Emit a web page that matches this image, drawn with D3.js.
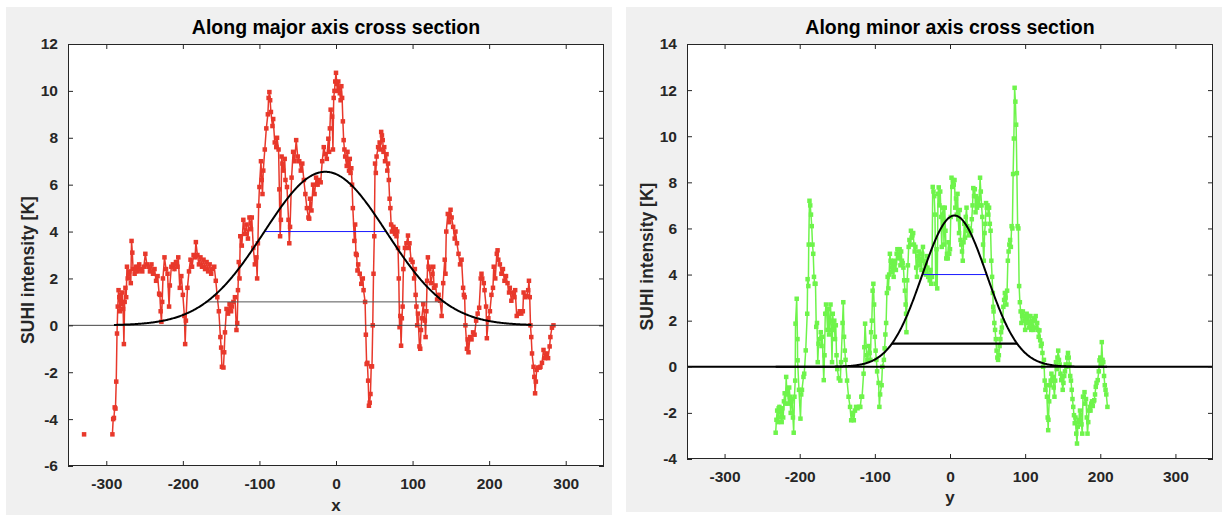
<!DOCTYPE html>
<html><head><meta charset="utf-8">
<script src="https://cdn.jsdelivr.net/npm/d3@7"></script>
<style>
body{margin:0;background:#fff;}
svg{display:block;font-family:"Liberation Sans",Arial,sans-serif;}
</style></head><body>
<svg id="c" width="1225" height="515"></svg>
<script>
// ---------- data ----------
const titles = ["Along major axis cross section", "Along minor axis cross section"];
const xLabels = ["x", "y"];
const yLabel = "SUHI intensity [K]";
const xTicks = [-300, -200, -100, 0, 100, 200, 300];
const majorYTicks = [-6, -4, -2, 0, 2, 4, 6, 8, 10, 12];
const minorYTicks = [-4, -2, 0, 2, 4, 6, 8, 10, 12, 14];
const levels = [1, 4];

// [position, SUHI intensity]; null marks a gap
const majorPoints = [
[-329,-4.65],null,
[-292,-4.65],[-291,-4.0],[-290,-3.95],[-289,-3.5],[-288,-3.55],[-287,-2.4],[-286,-0.35],[-285,0.8],[-284,1.5],[-283,1.2],[-282,0.6],[-281,1.3],[-280,0.9],[-279,1.4],[-278,0.7],[-277,-0.8],[-276,1.0],[-275,1.6],[-274,1.2],[-273,2.5],[-272,2.0],[-270,2.3],[-268,1.8],[-267,3.6],[-266,3.1],[-265,2.4],[-263,2.2],[-261,2.5],[-259,2.3],[-257,2.6],[-255,2.4],[-253,2.3],[-251,2.5],[-249,3.05],[-247,2.6],[-245,2.5],[-243,2.3],[-241,2.6],[-239,2.2],[-237,2.4],[-235,1.9],[-233,2.1],[-231,1.35],[-230,1.3],[-229,0.6],[-228,0.15],[-227,1.0],[-226,2.0],[-224,2.9],[-222,2.4],[-220,2.2],[-218,0.8],[-217,1.7],[-215,2.5],[-213,2.6],[-211,2.4],[-209,2.7],[-207,2.5],[-206,2.9],[-204,1.6],[-202,2.1],[-200,1.3],[-198,0.4],[-197,-0.8],[-196,0.2],[-194,1.6],[-192,2.3],[-190,2.8],[-188,2.5],[-186,3.0],[-184,2.9],[-183,3.55],[-181,3.0],[-179,2.6],[-177,2.9],[-175,2.5],[-173,2.8],[-171,2.4],[-169,2.7],[-167,2.3],[-165,2.6],[-163,2.2],[-161,2.4],[-159,2.5],[-157,1.9],[-155,1.2],[-153,0.6],[-151,-0.5],[-150,-0.95],[-149,-1.77],[-147,-1.8],[-146,-1.15],[-145,-0.3],[-143,0.7],[-141,0.5],[-139,0.9],[-137,0.6],[-136,0.8],[-134,1.0],[-132,1.2],[-130,-0.2],[-129,0.1],[-128,1.5],[-127,2.7],[-126,2.0],[-125,3.8],[-123,3.4],[-121,4.5],[-119,3.9],[-117,4.3],[-115,3.7],[-113,4.6],[-111,4.1],[-110,4.6],[-108,3.3],[-106,2.6],[-104,2.9],[-103,2.0],[-102,3.5],[-101,5.1],[-100,5.9],[-98,7.0],[-97,6.2],[-96,5.6],[-95,6.6],[-93,7.5],[-91,8.4],[-89,9.0],[-88,9.7],[-87,9.95],[-86,9.6],[-85,9.1],[-83,8.5],[-82,8.8],[-80,7.8],[-78,7.6],[-77,8.0],[-75,7.5],[-74,5.8],[-73,3.8],[-72,4.5],[-71,7.2],[-70,6.9],[-69,6.6],[-67,7.1],[-66,6.2],[-64,5.9],[-62,4.5],[-61,3.5],[-60,4.2],[-58,6.3],[-56,7.4],[-54,7.0],[-52,7.9],[-50,7.2],[-48,7.0],[-46,6.6],[-44,6.9],[-42,6.2],[-40,5.6],[-38,5.0],[-36,4.6],[-35,4.55],[-34,5.4],[-32,4.9],[-30,6.0],[-28,5.6],[-26,6.3],[-24,6.0],[-22,6.2],[-20,6.1],[-18,7.0],[-16,7.6],[-14,7.3],[-12,7.1],[-10,7.96],[-9,7.4],[-8,8.4],[-7,9.2],[-5,8.9],[-4,7.5],[-3,9.7],[-2,10.0],[-1,10.4],[0,10.77],[1,10.3],[2,10.0],[3,10.4],[4,10.1],[5,9.9],[6,9.6],[7,10.2],[8,9.7],[9,8.7],[10,7.9],[11,7.5],[12,7.2],[14,6.8],[15,7.4],[16,6.9],[17,6.6],[18,7.1],[19,6.5],[20,6.7],[21,6.0],[22,5.0],[24,3.6],[25,4.3],[26,3.05],[27,3.0],[28,2.34],[29,2.6],[31,2.2],[33,1.77],[35,2.0],[36,1.5],[38,1.0],[39,-0.4],[40,-1.65],[41,-1.6],[42,-2.36],[43,-3.43],[44,-3.3],[45,-2.93],[46,-1.75],[47,-1.75],[48,0.0],[49,2.2],[50,3.8],[51,6.9],[52,6.5],[53,7.2],[55,7.6],[57,7.8],[58,7.5],[59,8.25],[60,8.1],[61,7.9],[62,7.4],[63,7.6],[64,7.0],[66,7.3],[67,6.6],[68,6.9],[69,6.2],[70,5.4],[71,5.0],[72,4.3],[73,4.0],[75,4.2],[77,3.9],[78,4.1],[79,3.8],[80,4.0],[81,3.3],[82,2.0],[83,-0.08],[84,0.4],[85,-0.87],[86,0.3],[87,0.8],[88,2.4],[90,3.3],[92,3.5],[94,3.83],[95,3.3],[96,3.5],[98,2.8],[100,2.7],[102,2.0],[103,2.4],[104,1.3],[105,0.8],[106,0.0],[107,0.5],[109,-0.9],[110,-1.0],[111,-0.2],[112,0.3],[114,0.9],[116,0.2],[117,-0.5],[118,0.6],[119,1.9],[120,2.9],[121,2.5],[122,2.4],[124,1.8],[126,2.2],[127,2.5],[128,1.6],[130,1.7],[132,1.1],[134,1.3],[136,1.05],[138,0.4],[140,1.8],[142,2.8],[143,2.2],[144,4.0],[146,4.75],[148,4.4],[149.6,4.93],[151,4.6],[153,4.2],[155,3.7],[156,4.0],[158,3.5],[160,3.05],[162,2.6],[164,2.8],[166,1.6],[167,1.3],[168,1.2],[169,0.0],[171,-1.0],[172,-0.6],[173,-1.15],[175,-0.5],[177,-0.6],[179,-0.3],[181,-0.4],[183,0.2],[185,0.5],[187,0.75],[189,2.0],[190,2.2],[191,2.0],[193,1.8],[194,1.5],[196,0.8],[197,-0.55],[199,0.3],[201,0.6],[203,1.3],[205,1.6],[206,2.5],[208,2.0],[210,3.05],[211,3.2],[212,2.8],[214,2.6],[216,2.2],[218,2.4],[220,1.9],[222,2.1],[224,1.8],[226,1.4],[227,1.6],[229,1.05],[231,1.4],[233,1.2],[234,1.5],[236,0.4],[238,0.5],[240,0.6],[242,0.5],[244,0.6],[245,1.4],[247,1.2],[249,1.25],[251,1.5],[252,1.9],[253,1.2],[254,0.0],[255,-0.5],[256,-1.2],[258,-1.77],[259,-2.2],[260,-2.9],[261,-2.4],[262,-1.9],[264,-1.8],[266,-1.8],[267,-1.77],[269,-1.6],[271,-1.05],[273,-1.4],[275,-1.2],[277,-1.4],[279,-0.9],[280,-0.5],[282,-0.1],[284,0.0]
];

const minorPoints = [
[-232,-2.86],[-231,-2.3],[-230,-1.9],[-229,-2.4],[-228,-1.8],[-227,-1.74],[-226,-2.2],[-225,-1.9],[-224,-2.4],[-223,-1.8],[-222,-2.2],[-221,-1.5],[-220,-1.15],[-219,-1.6],[-218,-0.44],[-217,-1.2],[-216,-1.0],[-215,-1.6],[-214,-0.9],[-213,-1.3],[-212,-2.0],[-211,-1.5],[-210,-1.4],[-209,-2.2],[-208,-2.86],[-207,-1.3],[-206,-0.6],[-205.6,1.87],[-204,2.95],[-203,1.2],[-202.8,0.28],[-201,-1.0],[-199,-2.25],[-198,-1.2],[-197,-1.0],[-195,-0.44],[-194,-0.3],[-192,0.71],[-190,2.3],[-189.5,3.8],[-188.5,3.5],[-188,5.3],[-187,7.2],[-186,7.0],[-185,6.6],[-184,6.1],[-183,5.3],[-182,4.9],[-181,3.9],[-180,3.6],[-179,3.6],[-178,1.73],[-177,1.9],[-176,0.2],[-175,1.0],[-174,1.2],[-172,1.5],[-171,0.9],[-170,1.3],[-168,-0.58],[-167,0.5],[-166,2.3],[-165,2.7],[-164,2.3],[-163,1.6],[-162,2.5],[-161,1.4],[-160,2.0],[-159,2.7],[-158,1.6],[-157,0.2],[-156,2.3],[-155,1.6],[-154,2.0],[-153,1.2],[-152,1.8],[-151,0.5],[-150,-0.1],[-148,-0.5],[-146,-0.6],[-145,0.2],[-143,1.9],[-142,2.8],[-141,1.3],[-140,0.7],[-139,0.3],[-137,-0.6],[-135,-1.3],[-133,-1.74],[-131.5,-2.32],[-130,-2.0],[-128,-2.32],[-126.5,-1.9],[-125,-1.74],[-123,-1.8],[-121,-1.74],[-119.4,-1.74],[-118,-1.3],[-117,-1.3],[-115,-0.3],[-114,0.85],[-113,1.87],[-111,0.5],[-110,0.3],[-108,0.9],[-107,0.6],[-106,0.3],[-105,1.5],[-104,2.0],[-103,3.3],[-102,3.6],[-101,2.7],[-100,1.3],[-99,0.7],[-98,0.3],[-97,-0.2],[-95,-0.7],[-94,-1.74],[-93,-1.2],[-91,-0.8],[-90,0.0],[-88,0.3],[-87,0.8],[-86,1.4],[-85,1.9],[-84,3.2],[-83,3.9],[-82,3.4],[-81,4.0],[-80,4.9],[-79,4.6],[-78,4.3],[-77,4.1],[-76,4.5],[-75,3.9],[-74,4.6],[-73,4.5],[-72,4.2],[-71,4.9],[-70,5.1],[-69,4.8],[-68,4.7],[-67,5.1],[-66,4.4],[-65,5.0],[-64,4.6],[-63,4.5],[-62,4.3],[-61,3.75],[-60,3.3],[-59,2.7],[-58.5,2.3],[-58,1.5],[-57,3.75],[-56,4.4],[-55,5.2],[-54,5.5],[-53,5.3],[-52,5.9],[-51,5.6],[-50,5.7],[-49,5.8],[-48,5.3],[-47,5.0],[-46,5.2],[-45,4.3],[-44,3.9],[-43,4.8],[-42,4.6],[-41,5.0],[-40,4.4],[-39,4.7],[-38,4.2],[-37,4.9],[-36,5.2],[-35,4.6],[-34,4.1],[-33,4.5],[-32,4.0],[-31,4.8],[-30,4.3],[-29,3.9],[-28,4.0],[-27,3.75],[-26,4.2],[-25,3.6],[-24,3.9],[-23,7.8],[-22,7.6],[-21,7.4],[-20,6.6],[-19,3.6],[-18,5.1],[-17,3.4],[-16,7.5],[-15,7.78],[-14,7.0],[-13,7.6],[-12,6.5],[-11,5.2],[-10,6.6],[-9,6.9],[-8,5.3],[-7,6.9],[-6,5.9],[-5,4.7],[-4,4.9],[-3,4.7],[-2,5.4],[-1,4.9],[0,5.1],[1,6.5],[2,8.2],[3,7.8],[4,8.1],[5,7.9],[6,8.1],[7,6.9],[8,7.3],[9,6.6],[10,7.5],[11,6.4],[12,5.8],[13,6.8],[14,5.5],[15,5.3],[16,5.0],[17,4.6],[18,5.4],[19,6.2],[20,5.6],[21,6.5],[22,6.9],[23,6.1],[24,5.9],[25,5.7],[26,6.0],[27,5.8],[28,5.9],[29,6.4],[30,7.0],[31,7.75],[32,7.4],[33,7.7],[34,6.7],[35,7.4],[36,6.9],[37,7.1],[38,7.3],[39,7.0],[40,8.2],[41,7.6],[42,7.0],[43,6.5],[44,5.3],[45,4.6],[46,5.8],[47,6.2],[48,7.1],[49,6.9],[50,7.0],[51,6.6],[52,6.9],[53,6.2],[54,5.9],[55,4.6],[56,3.9],[57,3.2],[57.5,2.6],[58,2.4],[59,1.9],[60,1.6],[61,1.2],[62,0.7],[63,0.4],[64,0.3],[65,0.5],[66,0.9],[67,1.2],[68,1.5],[69,1.7],[70,2.0],[71,2.6],[72,2.9],[73,3.2],[74,3.0],[75,2.7],[76,3.3],[77,4.6],[78,5.0],[79,5.3],[80,5.5],[81,5.2],[82,6.1],[83,6.0],[84,8.36],[85,9.9],[86,12.1],[87,11.5],[88,10.5],[89,8.4],[90,6.1],[91,6.0],[92,3.5],[93,2.8],[94,2.4],[95,1.9],[96,2.2],[97,2.4],[98,2.2],[99,2.0],[100,1.6],[101,2.1],[102,2.3],[103,1.9],[104,2.2],[105,1.7],[106,1.9],[107,2.2],[108,1.6],[109,2.0],[110,1.7],[111,1.6],[112,2.1],[113,2.0],[114,2.2],[115,1.7],[116,1.9],[117,1.6],[118,1.3],[119,1.58],[120,1.15],[121,0.9],[122,1.0],[123,0.6],[124,0.0],[125,0.3],[126,-0.6],[127,-1.0],[128,-0.8],[129,-1.3],[130,-2.2],[130.7,-2.75],[131,-2.3],[132,-1.5],[133,-0.8],[134,-0.6],[135,-0.3],[136,-0.6],[137,-0.44],[138,-0.9],[139,-1.3],[140,-0.6],[141,0.2],[142,-0.1],[143,0.4],[144,0.7],[145,0.3],[146,0.1],[147,-0.3],[148,-0.58],[149,-0.5],[150,-1.0],[151,-0.7],[152,-0.4],[153,-0.2],[154,0.1],[155,0.0],[156,0.4],[157,0.6],[158,0.4],[159,0.1],[160,-0.4],[161,-0.6],[162,-1.0],[163,-1.4],[164,-1.74],[165,-2.1],[166,-2.45],[167,-2.2],[168,-2.9],[169,-3.33],[170,-2.6],[171,-2.4],[172,-2.3],[173,-1.9],[174,-2.1],[175,-2.5],[176,-2.9],[177,-1.3],[178,-1.3],[179,-1.1],[180,-1.6],[181,-1.4],[182,-2.2],[183,-2.9],[184,-2.4],[185,-1.9],[186,-1.74],[187,-1.9],[188,-1.6],[189,-1.5],[190,-1.7],[191,-1.5],[192,-1.45],[193,-1.2],[194,-0.87],[195,-0.7],[196.6,-0.58],[198,-0.2],[199,0.28],[200,0.4],[201,0.1],[202,1.07],[203,0.3],[204,0.2],[205,-0.4],[206,-0.8],[207,-1.0],[208,-1.2],[209.5,-1.74]
];

// Gaussian fits: [amplitude, centre, sigma, start, end]
const majorFit = [6.55, -14, 80, -290, 255];
const minorFit = [6.56, 6, 43, -232, 209];

// ---------- drawing ----------
const svg = d3.select("#c");
const fmt = d => String(d);   // plain hyphen minus, as in the reference
const panels = [
  {fig:[6,7,606,508], box:[68,44,604,466], yDom:[-6,12], yTicks:majorYTicks, pts:majorPoints, fit:majorFit,
   color:"#e8382b", zeroW:1, zeroC:"#444", lvlW:[1,1], lvlC:["#555","#1a1aff"], title:titles[0], xl:xLabels[0], ylOff:15, xlBase:511},
  {fig:[626,7,596,505], box:[687,44,1213,459], yDom:[-4,14], yTicks:minorYTicks, pts:minorPoints, fit:minorFit,
   color:"#6ef44b", zeroW:2, zeroC:"#000", lvlW:[2.2,1], lvlC:["#000","#1a1aff"], title:titles[1], xl:xLabels[1], ylOff:5, xlBase:503}
];

panels.forEach((p, i) => {
  const [bx0, by0, bx1, by1] = p.box;
  svg.append("rect").attr("x", p.fig[0]).attr("y", p.fig[1]).attr("width", p.fig[2]).attr("height", p.fig[3]).attr("fill", "#f0f0f0");
  svg.append("rect").attr("x", bx0).attr("y", by0).attr("width", bx1 - bx0).attr("height", by1 - by0).attr("fill", "#fff");

  const x = d3.scaleLinear().domain([-350, 350]).range([bx0, bx1]);
  const y = d3.scaleLinear().domain(p.yDom).range([by1, by0]);
  const g = svg.append("g");
  const clipId = "clip" + i;
  svg.append("clipPath").attr("id", clipId).append("rect").attr("x", bx0).attr("y", by0).attr("width", bx1 - bx0).attr("height", by1 - by0);
  const plot = g.append("g").attr("clip-path", `url(#${clipId})`);

  // data line + markers
  const line = d3.line().defined(d => d !== null).x(d => x(d[0])).y(d => y(d[1]));
  plot.append("path").datum(p.pts).attr("d", line).attr("fill", "none").attr("stroke", p.color).attr("stroke-width", 1.5);
  plot.selectAll("rect.m").data(p.pts.filter(d => d !== null)).enter().append("rect")
    .attr("x", d => x(d[0]) - 2.25).attr("y", d => y(d[1]) - 2.25).attr("width", 4.5).attr("height", 4.5).attr("fill", p.color);

  // zero line
  plot.append("line").attr("x1", bx0).attr("x2", bx1).attr("y1", y(0)).attr("y2", y(0)).attr("stroke", p.zeroC).attr("stroke-width", p.zeroW);

  // level lines from the fit
  const [A, mu, s, f0, f1] = p.fit;
  levels.forEach((lv, k) => {
    const hw = s * Math.sqrt(2 * Math.log(A / lv));
    plot.append("line").attr("x1", x(mu - hw)).attr("x2", x(mu + hw)).attr("y1", y(lv)).attr("y2", y(lv))
      .attr("stroke", p.lvlC[k]).attr("stroke-width", p.lvlW[k]);
  });

  // gaussian curve
  const cx = d3.range(f0, f1 + 0.5, 1);
  const curve = d3.line().x(v => x(v)).y(v => y(A * Math.exp(-((v - mu) ** 2) / (2 * s * s))));
  plot.append("path").datum(cx).attr("d", curve).attr("fill", "none").attr("stroke", "#000").attr("stroke-width", 2);

  // axes (ticks inward, box)
  const tc = "#262626";
  const axB = d3.axisBottom(x).tickValues(xTicks).tickSize(-5).tickPadding(12).tickFormat(fmt);
  const axT = d3.axisTop(x).tickValues(xTicks).tickSize(-5).tickFormat("");
  const axL = d3.axisLeft(y).tickValues(p.yTicks).tickSize(-5).tickPadding(10).tickFormat(fmt);
  const axR = d3.axisRight(y).tickValues(p.yTicks).tickSize(-5).tickFormat("");
  const style = sel => {
    sel.selectAll("path.domain").attr("stroke", tc);
    sel.selectAll("line").attr("stroke", tc);
    sel.selectAll("text").attr("fill", tc).attr("font-size", 15.5).attr("font-weight", "bold").attr("font-family", "Liberation Sans, Arial, sans-serif");
  };
  g.append("g").attr("transform", `translate(0,${by1})`).call(axB).call(style);
  g.append("g").attr("transform", `translate(0,${by0})`).call(axT).call(style);
  g.append("g").attr("transform", `translate(${bx0},0)`).call(axL).call(style);
  g.append("g").attr("transform", `translate(${bx1},0)`).call(axR).call(style);
  g.selectAll("path.domain").attr("d", null);
  g.append("rect").attr("x", bx0 + 0.5).attr("y", by0 + 0.5).attr("width", bx1 - bx0 - 1).attr("height", by1 - by0 - 1)
    .attr("fill", "none").attr("stroke", tc).attr("stroke-width", 1);

  // texts
  svg.append("text").attr("x", (bx0 + bx1) / 2).attr("y", 34).attr("text-anchor", "middle")
    .attr("font-size", 19.5).attr("font-weight", "bold").attr("fill", "#000").text(p.title);
  svg.append("text").attr("x", (bx0 + bx1) / 2).attr("y", p.xlBase).attr("text-anchor", "middle")
    .attr("font-size", 17).attr("font-weight", "bold").attr("fill", tc).text(p.xl);
  svg.append("text").attr("transform", `translate(${bx0 - 34},${(by0 + by1) / 2 + p.ylOff}) rotate(-90)`).attr("text-anchor", "middle")
    .attr("font-size", 17.5).attr("font-weight", "bold").attr("fill", tc).text(yLabel);
});
</script>
</body></html>
